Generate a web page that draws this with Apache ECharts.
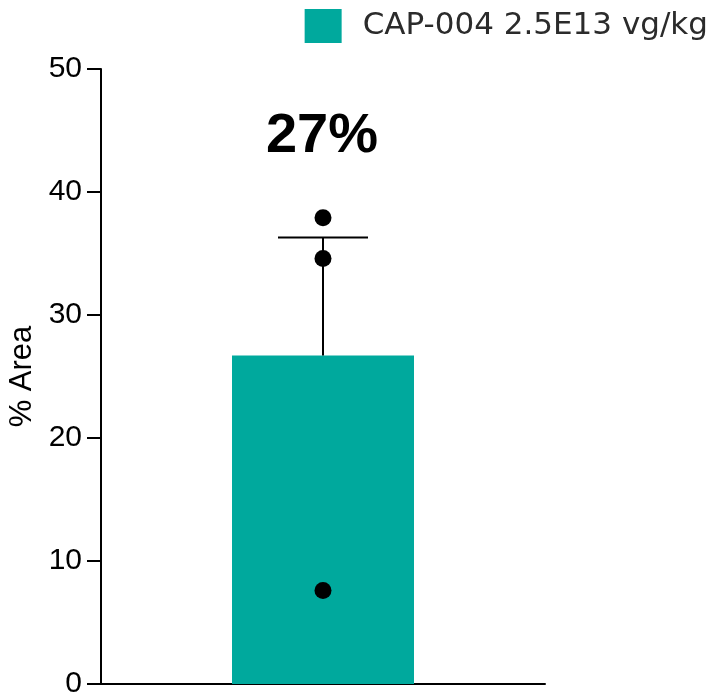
<!DOCTYPE html>
<html>
<head>
<meta charset="utf-8">
<script src="https://cdn.jsdelivr.net/npm/echarts@6/dist/echarts.min.js"></script>
<style>
  html, body { margin: 0; padding: 0; background: #fff; }
  #chart { width: 712px; height: 696px; }
</style>
</head>
<body>
<div id="chart"></div>
<script>
// data
var categories = ['CAP-004 2.5E13 vg/kg'];
var meanValues = [26.7];
var semValues = [9.6];
var pointValues = [37.9, 34.6, 7.6];
var yTicks = [0, 10, 20, 30, 40, 50];
var barLabel = '27%';

var teal = '#00A99D';

var chart = echarts.init(document.getElementById('chart'));

var option = {
    animation: false,
    grid: { left: 101, right: 167, top: 69, bottom: 12, outerBoundsMode: 'none', containLabel: false },
    legend: {
        right: -1,
        top: 4,
        icon: 'rect',
        itemWidth: 37,
        itemHeight: 34,
        data: [categories[0]],
        textStyle: { fontFamily: 'DejaVu Sans', fontSize: 31, color: '#2b2b2b', padding: [0, 0, 0, 16] }
    },
    xAxis: {
        type: 'category',
        data: categories,
        axisLine: { lineStyle: { color: '#000', width: 2 } },
        axisTick: { show: false },
        axisLabel: { show: false }
    },
    yAxis: {
        type: 'value',
        min: yTicks[0],
        max: yTicks[yTicks.length - 1],
        interval: 10,
        name: '% Area',
        nameLocation: 'middle',
        nameGap: 63,
        nameMoveOverlap: false,
        nameTextStyle: { fontFamily: 'Liberation Sans', fontSize: 31, color: '#000' },
        axisLine: { show: true, lineStyle: { color: '#000', width: 2 } },
        axisTick: { show: true, length: 14, lineStyle: { color: '#000', width: 2 } },
        axisLabel: { margin: 19, fontFamily: 'Liberation Sans', fontSize: 30, color: '#000' },
        splitLine: { show: false }
    },
    series: [
        {
            name: categories[0],
            type: 'bar',
            data: meanValues,
            barWidth: 182,
            itemStyle: { color: teal },
            z: 2
        },
        {
            type: 'custom',
            z: 3,
            data: meanValues.map(function (m, i) { return [i, m, m + semValues[i]]; }),
            renderItem: function (params, api) {
                var base = api.coord([api.value(0), api.value(1)]);
                var top = api.coord([api.value(0), api.value(2)]);
                var half = 45;
                var style = { stroke: '#000', lineWidth: 2 };
                return {
                    type: 'group',
                    children: [
                        { type: 'line', shape: { x1: base[0], y1: base[1], x2: top[0], y2: top[1] }, style: style },
                        { type: 'line', shape: { x1: top[0] - half, y1: top[1], x2: top[0] + half, y2: top[1] }, style: style }
                    ]
                };
            }
        },
        {
            type: 'scatter',
            z: 4,
            symbolSize: 17,
            itemStyle: { color: '#000', opacity: 1 },
            data: pointValues.map(function (v) { return [0, v]; })
        }
    ],
    graphic: [
        {
            type: 'text',
            x: 322,
            y: 137,
            style: {
                text: barLabel,
                font: 'bold 56px "Liberation Sans"',
                fill: '#000',
                align: 'center',
                verticalAlign: 'middle'
            }
        }
    ]
};

chart.setOption(option);
</script>
</body>
</html>
